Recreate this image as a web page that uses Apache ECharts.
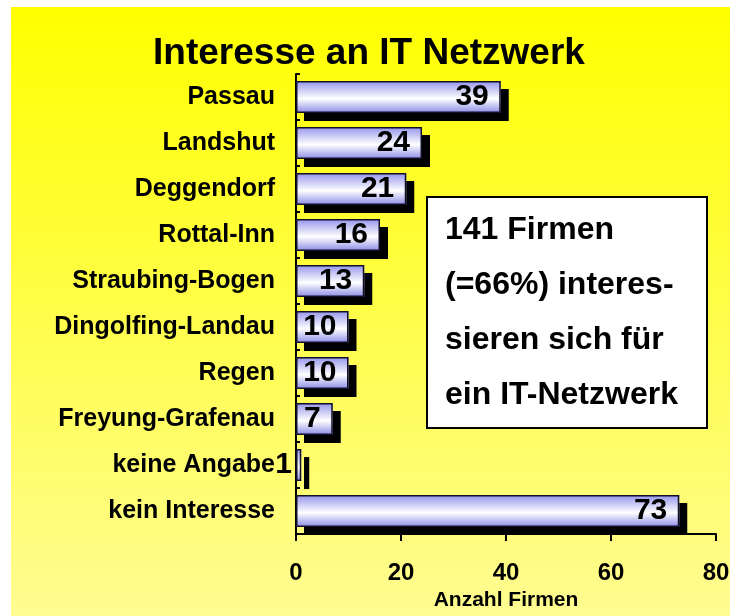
<!DOCTYPE html>
<html>
<head>
<meta charset="utf-8">
<script src="https://cdn.jsdelivr.net/npm/echarts@6/dist/echarts.min.js"></script>
<style>
  html, body { margin: 0; padding: 0; background: #fff; }
  #chart { width: 738px; height: 616px; }
</style>
</head>
<body>
<div id="chart"></div>
<script>
// Daten
const kreise = ["Passau", "Landshut", "Deggendorf", "Rottal-Inn", "Straubing-Bogen",
  "Dingolfing-Landau", "Regen", "Freyung-Grafenau", "keine Angabe", "kein Interesse"];
const firmen = [39, 24, 21, 16, 13, 10, 10, 7, 1, 73];
const achsenTicks = [0, 20, 40, 60, 80];
const infoText = ["141 Firmen", "(=66%) interes-", "sieren sich für", "ein IT-Netzwerk"];

const FONT = "Liberation Sans, Arial, sans-serif";
let myChart = echarts.init(document.getElementById("chart"));

// Zylinder-Verlauf der Balken
const balkenFarbe = new echarts.graphic.LinearGradient(0, 0, 0, 1, [
  { offset: 0, color: "#9494ec" },
  { offset: 0.55, color: "#ffffff" },
  { offset: 1, color: "#8a8ae6" },
]);

let option = {
  animation: false,
  backgroundColor: "#ffffff",
  graphic: [
    {
      type: "rect", z: -10, silent: true,
      shape: { x: 11, y: 7, width: 719, height: 609 },
      style: {
        fill: new echarts.graphic.LinearGradient(0, 0, 0, 1, [
          { offset: 0, color: "#ffff00" },
          { offset: 1, color: "#fffc92" },
        ]),
      },
    },
    {
      type: "rect", z: 10,
      shape: { x: 427, y: 197, width: 280, height: 231 },
      style: { fill: "#ffffff", stroke: "#000000", lineWidth: 2 },
    },
    {
      type: "text", z: 11,
      left: 445, top: 203,
      style: {
        text: infoText.join("\n"),
        font: "bold 32px " + FONT,
        fill: "#000",
        lineHeight: 55,
      },
    },
  ],
  title: {
    text: "Interesse an IT Netzwerk",
    left: "center",
    top: 30,
    textStyle: { fontFamily: FONT, fontWeight: "bold", fontSize: 37, color: "#000" },
  },
  grid: { left: 296, right: 22, top: 74, bottom: 78 },
  xAxis: {
    type: "value",
    min: 0, max: 80, interval: 20,
    name: "Anzahl Firmen",
    nameLocation: "middle",
    nameGap: 51,
    nameTextStyle: { fontFamily: FONT, fontWeight: "bold", fontSize: 21, color: "#000" },
    axisLine: { show: true, lineStyle: { color: "#000", width: 2 } },
    axisTick: { show: true, inside: false, length: 7, lineStyle: { color: "#000", width: 2 } },
    axisLabel: {
      margin: 27, fontFamily: FONT, fontWeight: "bold", fontSize: 24, color: "#000",
      formatter: (v) => (achsenTicks.includes(v) ? String(v) : ""),
    },
    splitLine: { show: false },
  },
  yAxis: {
    type: "category",
    data: kreise,
    inverse: true,
    axisLine: { show: true, lineStyle: { color: "#000", width: 2 } },
    axisTick: { show: true, inside: true, length: 4, lineStyle: { color: "#000", width: 2 } },
    axisLabel: { margin: 21, fontFamily: FONT, fontWeight: "bold", fontSize: 25, color: "#000" },
  },
  series: [
    // Schatten (hinten)
    {
      type: "bar",
      barWidth: 32,
      barGap: "-100%",
      silent: true,
      data: firmen,
      itemStyle: {
        color: balkenFarbe,
        shadowColor: "#000000",
        shadowOffsetX: 8,
        shadowOffsetY: 8,
        shadowBlur: 0,
      },
    },
    // Balken mit Rahmen und Zahl
    {
      type: "bar",
      barWidth: 32,
      barGap: "-100%",
      data: firmen.map((v) => ({
        value: v,
        // winziger Balken: Zahl links daneben
        label: v < 3 ? { position: "left", distance: 4 } : undefined,
      })),
      itemStyle: {
        color: balkenFarbe,
        borderColor: "#10102a",
        borderWidth: 1.5,
      },
      label: {
        show: true,
        position: "insideRight",
        distance: 12,
        fontFamily: FONT,
        fontWeight: "bold",
        fontSize: 30,
        color: "#000",
      },
    },
  ],
};
myChart.setOption(option);
</script>
</body>
</html>
